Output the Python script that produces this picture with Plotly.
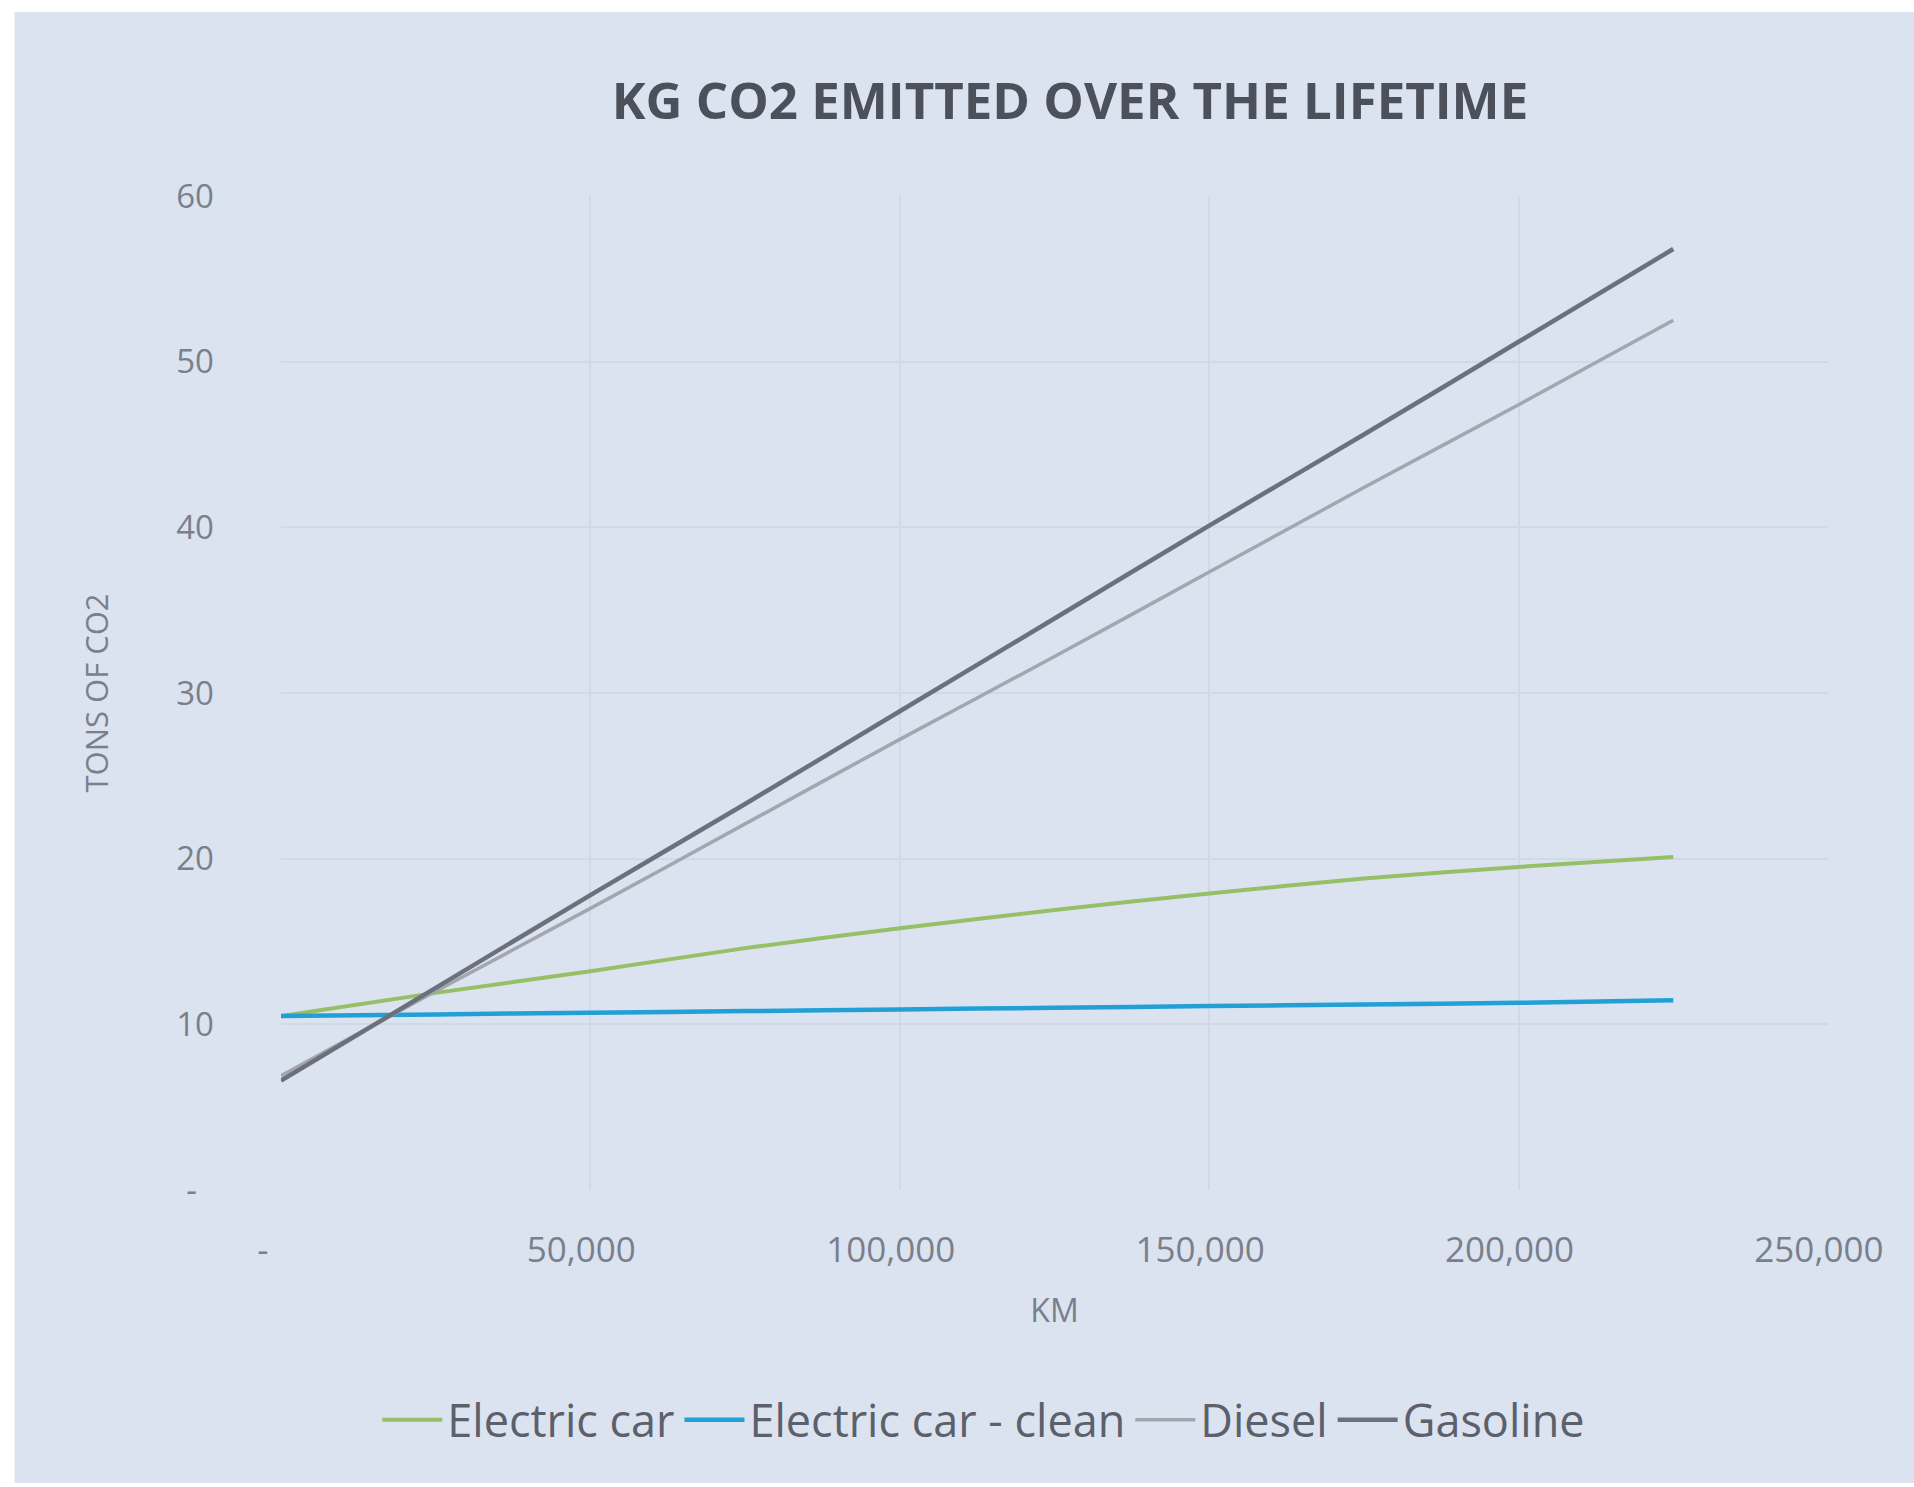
import plotly.graph_objects as go

# Distance driven (km) and cumulative lifetime emissions (tons of CO2)
km = [0, 25000, 50000, 75000, 100000, 125000, 150000, 175000, 200000, 225000]
electric_car = [10.5, 11.9, 13.2, 14.6, 15.8, 16.9, 17.9, 18.8, 19.5, 20.1]
electric_clean = [10.5, 10.6, 10.7, 10.8, 10.9, 11.0, 11.1, 11.2, 11.3, 11.45]
diesel = [6.9, 12.0, 17.0, 22.1, 27.2, 32.2, 37.3, 42.4, 47.4, 52.5]
gasoline = [6.6, 12.2, 17.8, 23.3, 28.9, 34.5, 40.1, 45.6, 51.2, 56.8]

series_names = ["Electric car", "Electric car - clean", "Diesel", "Gasoline"]
series_values = [electric_car, electric_clean, diesel, gasoline]
series_colors = ["#96c066", "#22a0d6", "#a3a6ae", "#6c707b"]
series_widths = [4, 4.5, 3.5, 4.5]

x_tickvals = [0, 50000, 100000, 150000, 200000, 250000]
x_ticktext = ["-\u00a0\u00a0\u00a0\u00a0", "50,000\u00a0\u00a0", "100,000\u00a0\u00a0",
              "150,000\u00a0\u00a0", "200,000\u00a0\u00a0", "250,000\u00a0\u00a0"]
y_tickvals = [0, 10, 20, 30, 40, 50, 60]
y_ticktext = ["-\u00a0\u00a0", "10", "20", "30", "40", "50", "60"]

W, H = 1914, 1487
ML, MR, MT, MB = 281, 83, 196, 297
PW, PH = W - ML - MR, H - MT - MB

BG = "#dbe3f1"
GRID = "#d1d8e8"
TICK = "#7a7f8b"
FONT = "Open Sans"

fig = go.Figure()
for name, vals, col, wd in zip(series_names, series_values, series_colors, series_widths):
    fig.add_trace(go.Scatter(x=km, y=vals, mode="lines", name=name,
                             line=dict(color=col, width=wd, shape="spline", smoothing=0.8)))

# light panel behind the chart, leaving a thin white edge on the top and left
def px_x(p):
    return (p - ML) / PW

def px_y(p):
    return (H - MB - p) / PH

fig.add_shape(type="rect", xref="paper", yref="paper", layer="below",
              x0=px_x(14), x1=px_x(W + 5), y0=px_y(1483), y1=px_y(12),
              fillcolor=BG, line=dict(width=0))

fig.update_layout(
    width=W, height=H,
    margin=dict(l=ML, r=MR, t=MT, b=MB),
    paper_bgcolor="white",
    plot_bgcolor=BG,
    font=dict(family=FONT, color=TICK),
    title=dict(text="KG CO2 EMITTED OVER THE LIFETIME",
               font=dict(family=FONT, size=51, color="#4b505b", weight="bold"),
               x=0.51, xref="paper", xanchor="center",
               y=1 - 101 / H, yref="container", yanchor="middle"),
    legend=dict(orientation="h", xref="container", x=0.514, xanchor="center",
                yref="container", y=1 - 1420 / H, yanchor="middle",
                font=dict(family=FONT, size=45, color="#5c606b"),
                bgcolor="rgba(0,0,0,0)", itemwidth=60),
    showlegend=True,
)

fig.update_xaxes(range=[0, 250000], tickvals=x_tickvals, ticktext=x_ticktext,
                 showgrid=True, gridcolor=GRID, gridwidth=1.5,
                 zeroline=False, showline=False, ticks="",
                 ticklabelstandoff=36,
                 tickfont=dict(family=FONT, size=35, color=TICK),
                 title=dict(text="KM", font=dict(family=FONT, size=32, color=TICK), standoff=28))
fig.update_yaxes(range=[0, 60], tickvals=y_tickvals, ticktext=y_ticktext,
                 showgrid=True, gridcolor=GRID, gridwidth=1.5,
                 zeroline=False, showline=False, ticks="",
                 ticklabelstandoff=66,
                 tickfont=dict(family=FONT, size=33, color=TICK),
                 title=dict(text="TONS OF CO2", font=dict(family=FONT, size=31, color=TICK), standoff=58))

fig.write_html("out.html")
